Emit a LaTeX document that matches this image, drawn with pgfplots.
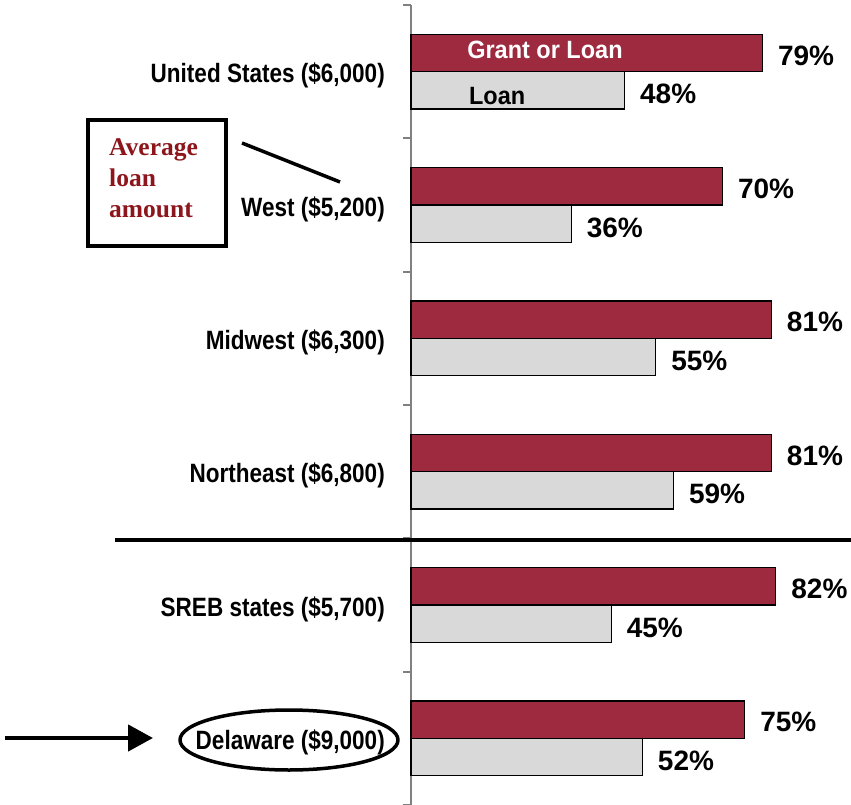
\documentclass[border=0pt]{standalone}
\usepackage{pgfplots}
\pgfplotsset{compat=1.18}
\usetikzlibrary{arrows.meta}
\usepackage{fontspec}
\setmainfont{Liberation Sans}
\newfontfamily\narrowsans[FakeStretch=0.85]{Liberation Sans}
\newfontfamily\innersans[FakeStretch=0.94]{Liberation Sans}
\newfontfamily\boxserif{Liberation Serif}
\definecolor{barred}{RGB}{158,42,63}
\definecolor{bargray}{RGB}{217,217,217}
\definecolor{axisgray}{RGB}{128,128,128}
\definecolor{notered}{RGB}{140,22,28}

\begin{document}
\begin{tikzpicture}
\path[use as bounding box] (0pt,0pt) rectangle (851pt,-805pt);
\begin{axis}[
  at={(411pt,-5pt)}, anchor=north west,
  scale only axis, width=440pt, height=800pt,
  xmin=0, xmax=98.9, ymin=0, ymax=6, y dir=reverse,
  axis x line=none, axis y line=left,
  y axis line style={-, draw=axisgray, line width=2.5pt},
  ytick={0.5,1.5,2.5,3.5,4.5,5.5},
  yticklabels={{United States (\$6,000)},{West (\$5,200)},{Midwest (\$6,300)},{Northeast (\$6,800)},{SREB states (\$5,700)},{Delaware (\$9,000)}},
  minor ytick={0,1,2,3,4,5,6},
  major tick length=0pt, minor tick length=8pt,
  tick align=outside,
  minor tick style={axisgray, line width=2pt},
  yticklabel style={font=\narrowsans\bfseries\fontsize{26.5}{30}\selectfont, inner sep=0pt, xshift=-26pt, yshift=-4pt},
  xbar, bar width=0.28,
  /pgf/number format/assume math mode=true,
  nodes near coords={\pgfmathprintnumber{\pgfplotspointmeta}\%},
  point meta=x,
  nodes near coords style={font=\bfseries\fontsize{28}{30}\selectfont, inner sep=0pt, xshift=15pt, anchor=west},
  clip=false,
]
% Grant or Loan
\addplot[bar shift=0pt, fill=barred, draw=black, line width=1.2pt,
  every node near coord/.append style={yshift=-2.5pt}]
  coordinates {(79,0.36) (70,1.36) (81,2.36) (81,3.36) (82,4.36) (75,5.36)};
% Loan
\addplot[bar shift=0pt, fill=bargray, draw=black, line width=1.2pt,
  every node near coord/.append style={yshift=-4pt}]
  coordinates {(48,0.64) (36,1.64) (55,2.64) (59,3.64) (45,4.64) (52,5.64)};

\node[anchor=base west, text=white, font=\innersans\bfseries\fontsize{25}{30}\selectfont, inner sep=0pt]
  at (axis cs:12.6,0.401) {Grant or Loan};
\node[anchor=base west, text=black, font=\innersans\bfseries\fontsize{25}{30}\selectfont, inner sep=0pt]
  at (axis cs:13.0,0.7425) {Loan};
\end{axis}

% average loan amount note
\draw[line width=4pt] (88pt,-120pt) rectangle (226pt,-246pt);
\node[anchor=base west, inner sep=0pt, text=notered, font=\boxserif\bfseries\fontsize{25.5}{30}\selectfont] at (109pt,-156pt) {Average};
\node[anchor=base west, inner sep=0pt, text=notered, font=\boxserif\bfseries\fontsize{25.5}{30}\selectfont] at (109pt,-187pt) {loan};
\node[anchor=base west, inner sep=0pt, text=notered, font=\boxserif\bfseries\fontsize{25.5}{30}\selectfont] at (109pt,-218pt) {amount};
\draw[line width=3.5pt] (242pt,-143pt) -- (340pt,-182pt);

% separator
\draw[line width=3.5pt] (115pt,-540pt) -- (851pt,-540pt);

% Delaware highlight
\draw[line width=4.5pt, -{Triangle[length=25pt,width=26pt]}] (5pt,-738pt) -- (153pt,-738pt);
\draw[line width=3.5pt, line join=round, line cap=round] (289pt,-740pt) ellipse [x radius=109pt, y radius=30pt];
\end{tikzpicture}
\end{document}
